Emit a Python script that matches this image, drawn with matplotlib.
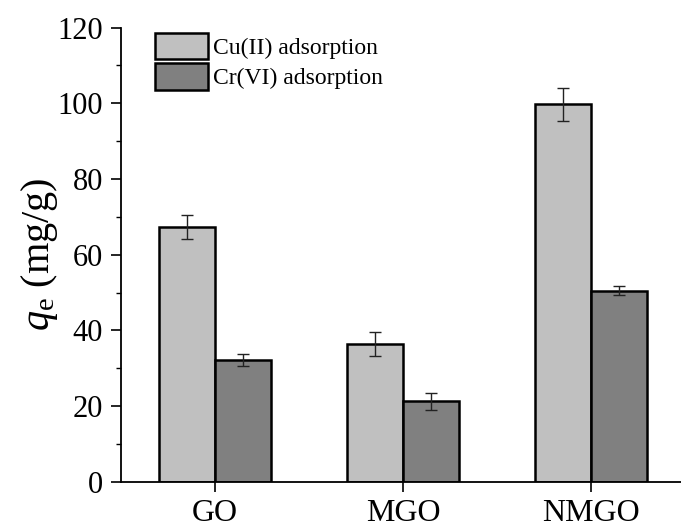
import numpy as np
import matplotlib
matplotlib.use("Agg")
import matplotlib.pyplot as plt
from matplotlib.ticker import MultipleLocator

plt.rcParams['font.family'] = ['Liberation Serif', 'DejaVu Serif']
plt.rcParams['mathtext.fontset'] = 'custom'
plt.rcParams['mathtext.rm'] = 'Liberation Serif'
plt.rcParams['mathtext.it'] = 'Liberation Serif:italic'

materials = ['GO', 'MGO', 'NMGO']
cu_qe = [67.4, 36.4, 99.7]
cu_err = [3.2, 3.1, 4.4]
cr_qe = [32.2, 21.3, 50.5]
cr_err = [1.5, 2.2, 1.2]
series_labels = ['Cu(II) adsorption', 'Cr(VI) adsorption']

fig = plt.figure(figsize=(6.81, 5.27), dpi=100)
ax = fig.add_axes([0.1777, 0.0854, 0.828, 0.8624])

x = np.arange(len(materials))
w = 0.3
err_kw = dict(ecolor='#222222', elinewidth=1.0, capsize=4, capthick=1.0)
ax.bar(x - w / 2, cu_qe, w, yerr=cu_err, color='#c0c0c0', edgecolor='black',
       linewidth=1.8, label=series_labels[0], error_kw=err_kw, zorder=2)
ax.bar(x + w / 2, cr_qe, w, yerr=cr_err, color='#808080', edgecolor='black',
       linewidth=1.8, label=series_labels[1], error_kw=err_kw, zorder=2)

ax.set_xlim(-0.5, 2.5)
ax.set_ylim(0, 120)
ax.set_xticks(x)
ax.set_xticklabels(materials)
ax.yaxis.set_major_locator(MultipleLocator(20))
ax.yaxis.set_minor_locator(MultipleLocator(10))
ax.tick_params(axis='both', which='major', direction='out', length=7,
               width=1.2, labelsize=22, pad=6)
ax.tick_params(axis='x', which='major', labelsize=23, pad=5)
ax.tick_params(axis='y', which='minor', direction='out', length=3.5, width=1.0)

for side in ('top', 'right'):
    ax.spines[side].set_visible(False)
for side in ('left', 'bottom'):
    ax.spines[side].set_linewidth(1.3)

ax.set_ylabel(r'$q_\mathrm{e}$ (mg/g)', fontsize=29, labelpad=-2)

ax.legend(loc='upper left', bbox_to_anchor=(0.06, 0.988), frameon=False,
          fontsize=17, handlelength=2.25, handleheight=1.35, handletextpad=0.2,
          labelspacing=0.15, borderpad=0.0, borderaxespad=0.0)

fig.savefig('out.png', dpi=100)
